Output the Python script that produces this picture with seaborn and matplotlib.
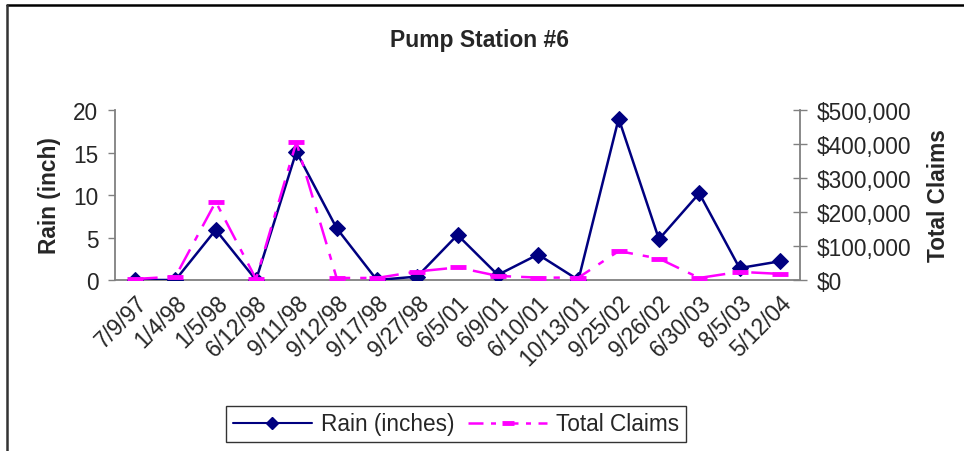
import matplotlib
matplotlib.use("Agg")
import matplotlib.pyplot as plt
from matplotlib.lines import Line2D
from matplotlib.ticker import FuncFormatter, FixedLocator
import seaborn as sns
import pandas as pd
import numpy as np

# Storm event dates
dates = ["7/9/97", "1/4/98", "1/5/98", "6/12/98", "9/11/98", "9/12/98",
         "9/17/98", "9/27/98", "6/5/01", "6/9/01", "6/10/01", "10/13/01",
         "9/25/02", "9/26/02", "6/30/03", "8/5/03", "5/12/04"]

# Rainfall per event (inches)
rain = [0.0, 0.0, 5.9, 0.0, 15.1, 6.1, 0.0, 0.4, 5.3, 0.6, 3.0, 0.0,
        19.0, 4.8, 10.2, 1.4, 2.2]

# Total claims per event (dollars)
claims = [3000, 10000, 230000, 3000, 405000, 6000, 6000, 25000, 37000,
          12000, 7000, 7000, 85000, 63000, 6000, 24000, 18000]

sns.set_theme(style="white")
plt.rcParams["font.family"] = ["Liberation Sans", "DejaVu Sans"]

df = pd.DataFrame({"pos": np.arange(len(dates)), "rain": rain, "claims": claims})

W, H = 964, 452
fig = plt.figure(figsize=(W / 100, H / 100), dpi=100)
ax = fig.add_axes([115 / W, 1 - 281 / H, (800 - 115) / W, (281 - 111) / H])
ax2 = ax.twinx()

navy = "#000080"
magenta = "#FF00FF"
axis_gray = "#808080"
fs = 16.3

sns.lineplot(data=df, x="pos", y="rain", ax=ax, color=navy, linewidth=1.8,
             marker="D", markersize=8, markeredgecolor=navy, markerfacecolor=navy,
             zorder=3)
sns.lineplot(data=df, x="pos", y="claims", ax=ax2, color=magenta, linewidth=1.8,
             marker="_", markersize=12, markeredgewidth=3.5, markeredgecolor=magenta,
             zorder=2)
ax2.lines[0].set_dashes([9, 4, 2.5, 4])

n = len(dates)
ax.set_xlim(-0.5, n - 0.5)
ax.set_ylim(0, 20)
ax2.set_ylim(0, 500000)
ax.set_yticks([0, 5, 10, 15, 20])
ax2.set_yticks(np.arange(0, 500001, 100000))
ax2.yaxis.set_major_formatter(FuncFormatter(lambda v, p: f"${v:,.0f}"))

# category boundaries carry the ticks; labels sit at the category centres
ax.xaxis.set_major_locator(FixedLocator(np.arange(-0.5, n, 1.0)))
ax.set_xticklabels([])
ax.xaxis.set_minor_locator(FixedLocator(np.arange(n)))
ax.set_xticklabels(dates, minor=True, rotation=45, ha="right",
                   rotation_mode="anchor", fontsize=fs)
ax.tick_params(axis="x", which="minor", length=0, pad=8)
ax.tick_params(axis="x", which="major", length=5, width=1, color=axis_gray,
               direction="out")

ax.tick_params(axis="y", length=5, width=1, color=axis_gray, direction="out",
               labelsize=fs, pad=7)
ax2.tick_params(axis="y", length=10, width=1, color=axis_gray, direction="inout",
                labelsize=fs, pad=7)

for a in (ax, ax2):
    a.spines["top"].set_visible(False)
    for s in ("left", "right", "bottom"):
        a.spines[s].set_color(axis_gray)
        a.spines[s].set_linewidth(1.3)
ax.spines["right"].set_visible(False)
ax2.spines["left"].set_visible(False)
ax2.spines["bottom"].set_visible(False)

ax.set_xlabel("")
ax.set_ylabel("Rain (inch)", fontsize=fs, fontweight="bold", labelpad=9)
ax2.set_ylabel("Total Claims", fontsize=fs, fontweight="bold", labelpad=11)

fig.text(480 / W, 1 - 40 / H, "Pump Station #6", fontsize=16.5, fontweight="bold",
         ha="center", va="center")

handles = [
    Line2D([], [], color=navy, linewidth=1.5, marker="D", markersize=6,
           markerfacecolor=navy),
    Line2D([], [], color=magenta, linewidth=1.8, dashes=[6, 3, 2, 3], marker="_",
           markersize=9, markeredgewidth=3.5),
]
leg = fig.legend(handles, ["Rain (inches)", "Total Claims"], loc="center",
                 bbox_to_anchor=(456 / W, 1 - 425 / H), ncol=2, fontsize=fs,
                 frameon=True, fancybox=False, edgecolor="black",
                 handlelength=3.5, handletextpad=0.4, columnspacing=0.6,
                 borderpad=0.3)
leg.get_frame().set_linewidth(1.0)

# outer chart frame (top and left edges)
fig.add_artist(Line2D([7 / W, 1.0], [1 - 6 / H, 1 - 6 / H], color="black",
                      linewidth=1.8, transform=fig.transFigure))
fig.add_artist(Line2D([7 / W, 7 / W], [0.0, 1 - 6 / H], color="#333333",
                      linewidth=1.8, transform=fig.transFigure))

fig.savefig("out.png", dpi=100)
